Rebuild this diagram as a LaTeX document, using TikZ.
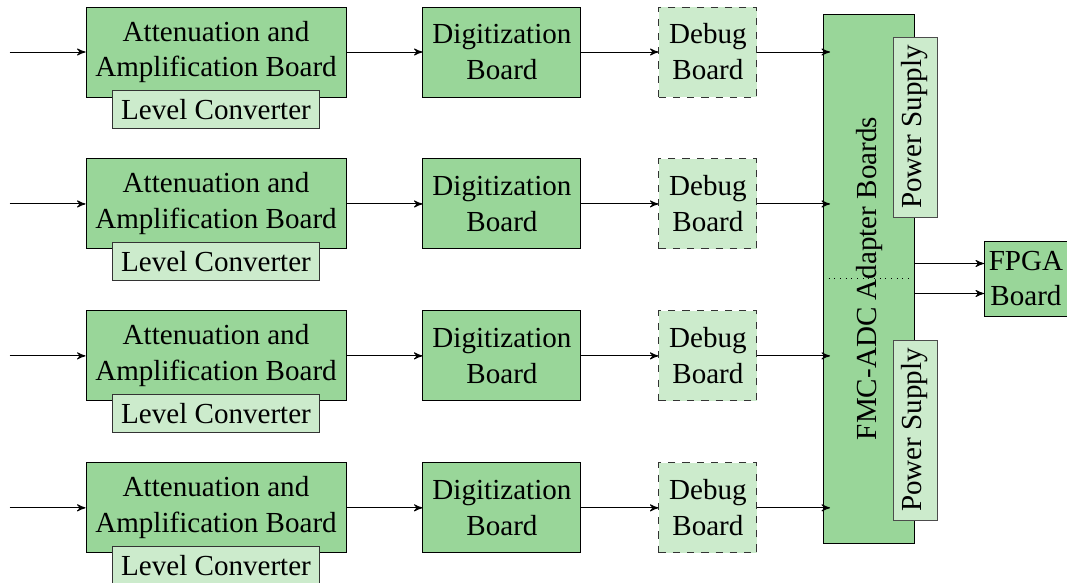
\documentclass[tikz,border=0pt]{standalone}
\usepackage{fontspec}
\setmainfont{Liberation Serif}
\usepackage{tikz}
\usetikzlibrary{arrows,positioning,calc}

\newdimen\pxu
\pxu=0.423pt

\definecolor{boardgreen}{rgb}{0.60,0.84,0.60}
\definecolor{lightgreen}{rgb}{0.80,0.92,0.80}

\tikzset{
	board/.style={draw, fill=boardgreen, align=center, inner sep=0pt},
	attbox/.style={board, minimum width=260\pxu, minimum height=90\pxu},
	digbox/.style={board, minimum width=158\pxu, minimum height=90\pxu},
	dbgbox/.style={draw=black!80, dashed, fill=lightgreen, align=center, inner sep=0pt, minimum width=98\pxu, minimum height=90\pxu},
	lvlbox/.style={draw=black!80, fill=lightgreen, inner sep=0pt, minimum width=207\pxu, minimum height=38\pxu},
	psbox/.style={draw=black!70, fill=lightgreen, inner sep=0pt, rotate=90, minimum width=180\pxu, minimum height=44\pxu},
}

\begin{document}
\begin{tikzpicture}[x=\pxu, y=-\pxu, >=stealth', font=\fontsize{12.3}{15.2}\selectfont]
	\useasboundingbox (0,0) rectangle (1067,583);

	% Nodes {att, lvl, dig, dbg}
	\node [attbox] 	(att1) at (216,52) 			{Attenuation and\\Amplification Board};
	\node [digbox] 	(dig1) [right=76\pxu of att1] 	{Digitization\\Board};
	\node [dbgbox] 	(dbg1) [right=77\pxu of dig1] 	{Debug\\Board};
	\node [lvlbox] 	(lvl1) [below=-7\pxu of att1] 	{Level Converter};

	\node [attbox] 	(att2) [below=61\pxu of att1] 	{Attenuation and\\Amplification Board};
	\node [digbox] 	(dig2) [right=76\pxu of att2] 	{Digitization\\Board};
	\node [dbgbox] 	(dbg2) [right=77\pxu of dig2] 	{Debug\\Board};
	\node [lvlbox] 	(lvl2) [below=-7\pxu of att2] 	{Level Converter};

	\node [attbox] 	(att3) [below=61\pxu of att2] 	{Attenuation and\\Amplification Board};
	\node [digbox] 	(dig3) [right=76\pxu of att3] 	{Digitization\\Board};
	\node [dbgbox] 	(dbg3) [right=77\pxu of dig3] 	{Debug\\Board};
	\node [lvlbox] 	(lvl3) [below=-7\pxu of att3] 	{Level Converter};

	\node [attbox] 	(att4) [below=61\pxu of att3] 	{Attenuation and\\Amplification Board};
	\node [digbox] 	(dig4) [right=76\pxu of att4] 	{Digitization\\Board};
	\node [dbgbox] 	(dbg4) [right=77\pxu of dig4] 	{Debug\\Board};
	\node [lvlbox] 	(lvl4) [below=-7\pxu of att4] 	{Level Converter};

	% FMC adapter, power supplies, FPGA
	\node [board, minimum width=91\pxu, minimum height=529\pxu] (fmc) at (869,278.5) {};
	\node [rotate=90] (fmclabel) at (fmc.center) {FMC-ADC Adapter Boards};
	\node [psbox] 	(ps1) at (915,127) 	{Power Supply};
	\node [psbox] 	(ps2) at (915,430) 	{Power Supply};
	\node [board, minimum width=83\pxu, minimum height=75\pxu] (fpga) [right=69\pxu of fmc] {FPGA\\Board};
	\draw [dotted] (fmc.west) -- ([xshift=-4\pxu]fmc.east);

	% Inputs
	\coordinate (in1) at ([xshift=-76\pxu]att1.west);
	\coordinate (in2) at ([xshift=-76\pxu]att2.west);
	\coordinate (in3) at ([xshift=-76\pxu]att3.west);
	\coordinate (in4) at ([xshift=-76\pxu]att4.west);
	\coordinate (out1) at ($(fmc.west |- dbg1)+(7,0)$);
	\coordinate (out2) at ($(fmc.west |- dbg2)+(7,0)$);
	\coordinate (out3) at ($(fmc.west |- dbg3)+(7,0)$);
	\coordinate (out4) at ($(fmc.west |- dbg4)+(7,0)$);

	% Paths
	\path [->] 	(in1) edge (att1)	(att1) edge (dig1)	(dig1) edge (dbg1)	(dbg1) edge (out1);
	\path [->] 	(in2) edge (att2)	(att2) edge (dig2)	(dig2) edge (dbg2)	(dbg2) edge (out2);
	\path [->] 	(in3) edge (att3)	(att3) edge (dig3)	(dig3) edge (dbg3)	(dbg3) edge (out3);
	\path [->] 	(in4) edge (att4)	(att4) edge (dig4)	(dig4) edge (dbg4)	(dbg4) edge (out4);
	\path [->] 	([yshift=15\pxu]fmc.east) edge ([yshift=15\pxu]fpga.west);
	\path [->] 	([yshift=-15\pxu]fmc.east) edge ([yshift=-15\pxu]fpga.west);

\end{tikzpicture}
\end{document}
